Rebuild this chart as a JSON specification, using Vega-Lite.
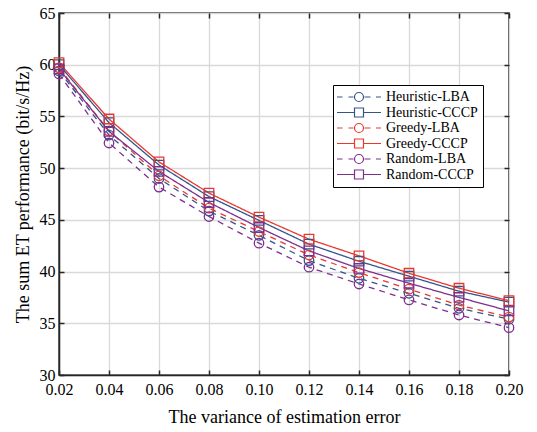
{
  "$schema": "https://vega.github.io/schema/vega-lite/v6.json",
  "width": 450,
  "height": 362,
  "autosize": "none",
  "padding": {"left": 59, "top": 13, "right": 28, "bottom": 57},
  "background": "white",
  "config": {
    "font": "Liberation Serif",
    "view": {"stroke": "#262626", "strokeWidth": 1.5},
    "axis": {
      "labelFont": "Liberation Serif",
      "titleFont": "Liberation Serif",
      "labelColor": "#000",
      "titleColor": "#000",
      "titleFontWeight": "normal",
      "domainColor": "#262626",
      "domainWidth": 1.5,
      "tickColor": "#262626",
      "tickWidth": 1.5,
      "gridColor": "#d9d9d9",
      "gridWidth": 1.3
    },
    "legend": {
      "labelFont": "Liberation Serif",
      "labelFontSize": 14,
      "labelColor": "#000",
      "labelFontWeight": "normal"
    }
  },
  "data": {
    "values": [
      {"x": 0.02, "series": "Heuristic-LBA", "method": "LBA", "y": 59.4},
      {"x": 0.04, "series": "Heuristic-LBA", "method": "LBA", "y": 53.2},
      {"x": 0.06, "series": "Heuristic-LBA", "method": "LBA", "y": 49.0},
      {"x": 0.08, "series": "Heuristic-LBA", "method": "LBA", "y": 45.85},
      {"x": 0.10, "series": "Heuristic-LBA", "method": "LBA", "y": 43.5},
      {"x": 0.12, "series": "Heuristic-LBA", "method": "LBA", "y": 41.06},
      {"x": 0.14, "series": "Heuristic-LBA", "method": "LBA", "y": 39.35},
      {"x": 0.16, "series": "Heuristic-LBA", "method": "LBA", "y": 37.9},
      {"x": 0.18, "series": "Heuristic-LBA", "method": "LBA", "y": 36.45},
      {"x": 0.20, "series": "Heuristic-LBA", "method": "LBA", "y": 35.4},
      {"x": 0.02, "series": "Heuristic-CCCP", "method": "CCCP", "y": 60.0},
      {"x": 0.04, "series": "Heuristic-CCCP", "method": "CCCP", "y": 54.4},
      {"x": 0.06, "series": "Heuristic-CCCP", "method": "CCCP", "y": 50.3},
      {"x": 0.08, "series": "Heuristic-CCCP", "method": "CCCP", "y": 47.25},
      {"x": 0.10, "series": "Heuristic-CCCP", "method": "CCCP", "y": 44.95},
      {"x": 0.12, "series": "Heuristic-CCCP", "method": "CCCP", "y": 42.65},
      {"x": 0.14, "series": "Heuristic-CCCP", "method": "CCCP", "y": 41.0},
      {"x": 0.16, "series": "Heuristic-CCCP", "method": "CCCP", "y": 39.55},
      {"x": 0.18, "series": "Heuristic-CCCP", "method": "CCCP", "y": 38.1},
      {"x": 0.20, "series": "Heuristic-CCCP", "method": "CCCP", "y": 37.05},
      {"x": 0.02, "series": "Greedy-LBA", "method": "LBA", "y": 59.7},
      {"x": 0.04, "series": "Greedy-LBA", "method": "LBA", "y": 53.6},
      {"x": 0.06, "series": "Greedy-LBA", "method": "LBA", "y": 49.26},
      {"x": 0.08, "series": "Greedy-LBA", "method": "LBA", "y": 46.13},
      {"x": 0.10, "series": "Greedy-LBA", "method": "LBA", "y": 43.87},
      {"x": 0.12, "series": "Greedy-LBA", "method": "LBA", "y": 41.6},
      {"x": 0.14, "series": "Greedy-LBA", "method": "LBA", "y": 39.9},
      {"x": 0.16, "series": "Greedy-LBA", "method": "LBA", "y": 38.3},
      {"x": 0.18, "series": "Greedy-LBA", "method": "LBA", "y": 36.75},
      {"x": 0.20, "series": "Greedy-LBA", "method": "LBA", "y": 35.6},
      {"x": 0.02, "series": "Greedy-CCCP", "method": "CCCP", "y": 60.2},
      {"x": 0.04, "series": "Greedy-CCCP", "method": "CCCP", "y": 54.75},
      {"x": 0.06, "series": "Greedy-CCCP", "method": "CCCP", "y": 50.6},
      {"x": 0.08, "series": "Greedy-CCCP", "method": "CCCP", "y": 47.59},
      {"x": 0.10, "series": "Greedy-CCCP", "method": "CCCP", "y": 45.26},
      {"x": 0.12, "series": "Greedy-CCCP", "method": "CCCP", "y": 43.13},
      {"x": 0.14, "series": "Greedy-CCCP", "method": "CCCP", "y": 41.52},
      {"x": 0.16, "series": "Greedy-CCCP", "method": "CCCP", "y": 39.84},
      {"x": 0.18, "series": "Greedy-CCCP", "method": "CCCP", "y": 38.39},
      {"x": 0.20, "series": "Greedy-CCCP", "method": "CCCP", "y": 37.19},
      {"x": 0.02, "series": "Random-LBA", "method": "LBA", "y": 59.1},
      {"x": 0.04, "series": "Random-LBA", "method": "LBA", "y": 52.43},
      {"x": 0.06, "series": "Random-LBA", "method": "LBA", "y": 48.17},
      {"x": 0.08, "series": "Random-LBA", "method": "LBA", "y": 45.32},
      {"x": 0.10, "series": "Random-LBA", "method": "LBA", "y": 42.75},
      {"x": 0.12, "series": "Random-LBA", "method": "LBA", "y": 40.42},
      {"x": 0.14, "series": "Random-LBA", "method": "LBA", "y": 38.8},
      {"x": 0.16, "series": "Random-LBA", "method": "LBA", "y": 37.26},
      {"x": 0.18, "series": "Random-LBA", "method": "LBA", "y": 35.8},
      {"x": 0.20, "series": "Random-LBA", "method": "LBA", "y": 34.58},
      {"x": 0.02, "series": "Random-CCCP", "method": "CCCP", "y": 59.6},
      {"x": 0.04, "series": "Random-CCCP", "method": "CCCP", "y": 53.55},
      {"x": 0.06, "series": "Random-CCCP", "method": "CCCP", "y": 49.68},
      {"x": 0.08, "series": "Random-CCCP", "method": "CCCP", "y": 46.68},
      {"x": 0.10, "series": "Random-CCCP", "method": "CCCP", "y": 44.26},
      {"x": 0.12, "series": "Random-CCCP", "method": "CCCP", "y": 42.0},
      {"x": 0.14, "series": "Random-CCCP", "method": "CCCP", "y": 40.3},
      {"x": 0.16, "series": "Random-CCCP", "method": "CCCP", "y": 38.87},
      {"x": 0.18, "series": "Random-CCCP", "method": "CCCP", "y": 37.5},
      {"x": 0.20, "series": "Random-CCCP", "method": "CCCP", "y": 36.2}
    ]
  },
  "resolve": {
    "scale": {"shape": "independent"},
    "legend": {"shape": "independent", "color": "independent"}
  },
  "layer": [
    {
      "mark": {"type": "line", "strokeWidth": 1.3},
      "encoding": {
        "x": {
          "field": "x", "type": "quantitative",
          "scale": {"domain": [0.02, 0.2], "nice": false, "zero": false},
          "axis": {
            "orient": "bottom",
            "values": [0.02, 0.04, 0.06, 0.08, 0.1, 0.12, 0.14, 0.16, 0.18, 0.2],
            "format": ".2f",
            "title": "The variance of estimation error",
            "labelFontSize": 16,
            "titleFontSize": 18,
            "tickSize": -5,
            "labelPadding": 11,
            "labelFlush": false,
            "titlePadding": 11,
            "grid": true
          }
        },
        "y": {
          "field": "y", "type": "quantitative",
          "scale": {"domain": [30, 65], "nice": false, "zero": false},
          "axis": {
            "orient": "left",
            "values": [30, 35, 40, 45, 50, 55, 60, 65],
            "title": "The sum ET performance (bit/s/Hz)",
            "labelFontSize": 16,
            "titleFontSize": 18,
            "tickSize": -5,
            "labelPadding": 9,
            "labelFlush": false,
            "titlePadding": 7,
            "grid": true
          }
        },
        "color": {
          "field": "series", "type": "nominal",
          "scale": {
            "domain": ["Heuristic-LBA", "Heuristic-CCCP", "Greedy-LBA", "Greedy-CCCP", "Random-LBA", "Random-CCCP"],
            "range": ["#33558b", "#33558b", "#e8382f", "#e8382f", "#7e2f8e", "#7e2f8e"]
          },
          "legend": null
        },
        "strokeDash": {
          "field": "method", "type": "nominal",
          "scale": {"domain": ["LBA", "CCCP"], "range": [[6, 5], [1, 0]]},
          "legend": null
        },
        "detail": {"field": "series"}
      }
    },
    {
      "mark": {"type": "point", "filled": false, "size": 90, "strokeWidth": 1.3, "opacity": 1},
      "encoding": {
        "x": {
          "field": "x", "type": "quantitative",
          "axis": {"orient": "top", "labels": false, "title": null, "tickSize": -5, "grid": false, "domain": false,
                   "values": [0.02, 0.04, 0.06, 0.08, 0.1, 0.12, 0.14, 0.16, 0.18, 0.2]}
        },
        "y": {
          "field": "y", "type": "quantitative",
          "axis": {"orient": "right", "labels": false, "title": null, "tickSize": -5, "grid": false, "domain": false,
                   "values": [30, 35, 40, 45, 50, 55, 60, 65]}
        },
        "color": {"field": "series", "type": "nominal", "legend": null},
        "shape": {
          "field": "method", "type": "nominal",
          "scale": {"domain": ["LBA", "CCCP"], "range": ["circle", "square"]},
          "legend": null
        }
      }
    },
    {
      "mark": {"type": "point", "filled": false, "opacity": 0, "strokeWidth": 1.2},
      "encoding": {
        "x": {"field": "x", "type": "quantitative", "axis": null},
        "y": {"field": "y", "type": "quantitative", "axis": null},
        "color": {
          "field": "series", "type": "nominal",
          "legend": {
            "title": null,
            "orient": "none",
            "legendX": 274,
            "legendY": 72,
            "symbolSize": 100,
            "symbolOffset": 14,
            "symbolOpacity": 1,
            "symbolStrokeWidth": 1.2,
            "symbolFillColor": "transparent",
            "labelFont": "Liberation Serif",
            "labelFontSize": 14,
            "labelColor": "#000",
            "labelOffset": 20,
            "rowPadding": 1.5,
            "padding": 5,
            "strokeColor": "#000",
            "fillColor": "white",
            "cornerRadius": 0
          }
        },
        "shape": {
          "field": "series", "type": "nominal",
          "scale": {
            "domain": ["Heuristic-LBA", "Heuristic-CCCP", "Greedy-LBA", "Greedy-CCCP", "Random-LBA", "Random-CCCP"],
            "range": [
              "M-4.4,0H-3.3M-2.1,0H-1.1M1.1,0H2.3M3.4,0H4.4M0.9,0A0.9,0.9,0,1,1,-0.9,0A0.9,0.9,0,1,1,0.9,0",
              "M-4.4,0H-0.9M0.9,0H4.4M-0.9,-0.9H0.9V0.9H-0.9Z",
              "M-4.4,0H-3.3M-2.1,0H-1.1M1.1,0H2.3M3.4,0H4.4M0.9,0A0.9,0.9,0,1,1,-0.9,0A0.9,0.9,0,1,1,0.9,0",
              "M-4.4,0H-0.9M0.9,0H4.4M-0.9,-0.9H0.9V0.9H-0.9Z",
              "M-4.4,0H-3.3M-2.1,0H-1.1M1.1,0H2.3M3.4,0H4.4M0.9,0A0.9,0.9,0,1,1,-0.9,0A0.9,0.9,0,1,1,0.9,0",
              "M-4.4,0H-0.9M0.9,0H4.4M-0.9,-0.9H0.9V0.9H-0.9Z"
            ]
          },
          "legend": {
            "title": null,
            "orient": "none",
            "legendX": 274,
            "legendY": 72,
            "symbolSize": 100,
            "symbolOffset": 14,
            "symbolOpacity": 1,
            "symbolStrokeWidth": 1.2,
            "symbolFillColor": "transparent",
            "labelFont": "Liberation Serif",
            "labelFontSize": 14,
            "labelColor": "#000",
            "labelOffset": 20,
            "rowPadding": 1.5,
            "padding": 5,
            "strokeColor": "#000",
            "fillColor": "white",
            "cornerRadius": 0
          }
        }
      }
    }
  ]
}
